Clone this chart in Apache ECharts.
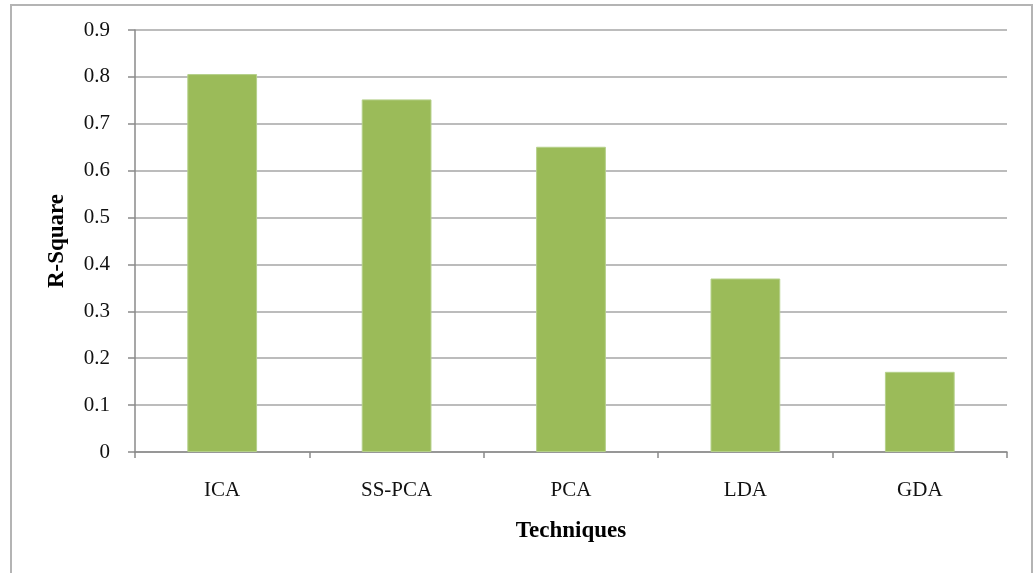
<!DOCTYPE html>
<html>
<head>
<meta charset="utf-8">
<title>R-Square by Technique</title>
<script src="https://cdn.jsdelivr.net/npm/echarts@6/dist/echarts.min.js"></script>
<style>
  html, body { margin: 0; padding: 0; background: #ffffff; }
  #chart { width: 1036px; height: 573px; }
</style>
</head>
<body>
<div id="chart"></div>
<script>
// Techniques compared and their R-Square scores
const techniques = ['ICA', 'SS-PCA', 'PCA', 'LDA', 'GDA'];
const rSquare = [0.806, 0.752, 0.651, 0.370, 0.171];

// Value axis range and step
const yMin = 0;
const yMax = 0.9;
const yStep = 0.1;

const serif = '"Liberation Serif", "Times New Roman", serif';

const chart = echarts.init(document.getElementById('chart'), null, { renderer: 'canvas' });

chart.setOption({
  backgroundColor: '#ffffff',
  animation: false,
  graphic: [{
    type: 'rect',
    shape: { x: 11, y: 5, width: 1021, height: 600 },
    style: { fill: 'none', stroke: '#b4b4b4', lineWidth: 2 },
    silent: true
  }],
  grid: { left: 135, right: 29, top: 30, bottom: 121, containLabel: false },
  xAxis: {
    type: 'category',
    data: techniques,
    name: 'Techniques',
    nameLocation: 'middle',
    nameGap: 68,
    nameTextStyle: { fontFamily: serif, fontWeight: 'bold', fontSize: 23, color: '#000' },
    axisLine: { show: true, lineStyle: { color: '#8a8a8a', width: 1.5 } },
    axisTick: { show: true, alignWithLabel: false, length: 6, lineStyle: { color: '#8a8a8a', width: 1.5 } },
    axisLabel: { margin: 28, fontFamily: serif, fontSize: 21, color: '#111' },
    splitLine: { show: false }
  },
  yAxis: {
    type: 'value',
    min: yMin,
    max: yMax,
    interval: yStep,
    name: 'R-Square',
    nameLocation: 'middle',
    nameGap: 66,
    nameRotate: 90,
    nameTextStyle: { fontFamily: serif, fontWeight: 'bold', fontSize: 23, color: '#000' },
    axisLine: { show: true, lineStyle: { color: '#8a8a8a', width: 1.5 } },
    axisTick: { show: true, inside: false, length: 7, lineStyle: { color: '#8a8a8a', width: 1.5 } },
    axisLabel: {
      margin: 25,
      fontFamily: serif,
      fontSize: 21,
      color: '#111',
      formatter: v => (Math.round(v * 10) / 10).toString()
    },
    splitLine: { show: true, lineStyle: { color: '#a6a6a6', width: 1.6 } }
  },
  series: [{
    type: 'bar',
    data: rSquare,
    barWidth: '40%',
    itemStyle: { color: '#9bbb59', borderColor: '#b5d08a', borderWidth: 1 },
    silent: true
  }]
});
</script>
</body>
</html>
